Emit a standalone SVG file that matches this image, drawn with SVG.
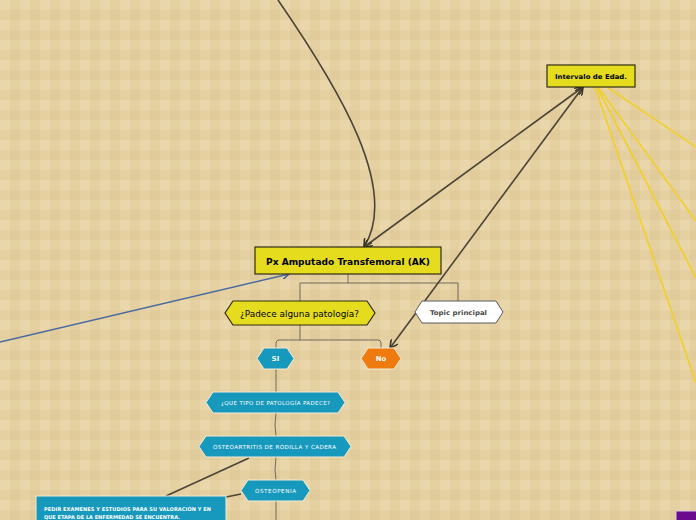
<svg xmlns="http://www.w3.org/2000/svg" width="696" height="520" viewBox="0 0 696 520">
<defs>
<pattern id="plaid" width="20" height="20" patternUnits="userSpaceOnUse">
<rect width="20" height="20" fill="#e9d6aa"/>
<rect x="10" width="10" height="20" fill="#c8a870" fill-opacity="0.12"/>
<rect y="10" width="20" height="10" fill="#c8a870" fill-opacity="0.12"/>
</pattern>
<marker id="arr" viewBox="0 0 10 10" refX="9" refY="5" markerWidth="9" markerHeight="9" orient="auto-start-reverse" markerUnits="userSpaceOnUse">
<path d="M0,0 L9,5 L0,10" fill="none" stroke="#3a3628" stroke-width="1.8"/>
</marker>
<marker id="arrb" viewBox="0 0 10 10" refX="9" refY="5" markerWidth="8" markerHeight="8" orient="auto" markerUnits="userSpaceOnUse">
<path d="M0,0 L9,5 L0,10" fill="none" stroke="#3c5a96" stroke-width="1.8"/>
</marker>
</defs>
<style>
.t{font-family:"DejaVu Sans",Verdana,sans-serif}
.b{font-weight:bold}
.yel{fill:#e6dc1e;stroke:#2f2d14;stroke-width:1.2}
.blue{fill:#1699bd;stroke:#f4ecd4;stroke-width:1}
.wt{fill:#ffffff}
.tree{fill:none;stroke:#6e6a5e;stroke-width:1}
.dark{fill:none;stroke:#4a4536;stroke-width:1.6}
.ylw{fill:none;stroke:#f0d030;stroke-width:1.8}
</style>
<rect width="696" height="520" fill="url(#plaid)"/>
<g id="connectors">
<path class="ylw" d="M607,87 L696,147"/>
<path class="ylw" d="M598,87 L696,221"/>
<path class="ylw" d="M597,87 L696,278"/>
<path class="ylw" d="M595,87 L696,383"/>
<path class="tree" d="M348,274 V283 M300,301 V283 H458 V301"/>
<path class="tree" d="M300,325 V340 M276,348 V343 Q276,340 279,340 H378 Q381,340 381,343 V348"/>
<path class="tree" stroke="#8a7e64" d="M276,369 V392 M276,413 L275,425 L276,436 M276,457 L275,470 L276,480 M276,501 V520"/>
<path class="dark" d="M278,0 C340,90 400,190 364,247" stroke-width="2" marker-end="url(#arr)"/>
<path class="dark" d="M583,87 L364,247" marker-start="url(#arr)" marker-end="url(#arr)"/>
<path class="dark" d="M583,87 L390,348" marker-start="url(#arr)" marker-end="url(#arr)"/>
<path d="M0,342 L289,274" fill="none" stroke="#4a6aa0" stroke-width="1.6" marker-end="url(#arrb)"/>
<path class="dark" stroke-width="1.3" d="M249,458 L166,496 M241,494 L226,497"/>
</g>
<g id="intervalo">
<rect class="yel" x="547" y="65" width="88" height="22"/>
<text class="t b" x="555" y="79" font-size="6.6" textLength="72" lengthAdjust="spacingAndGlyphs">Intervalo de Edad.</text>
</g>
<g id="main">
<rect class="yel" x="255" y="247" width="186" height="27" stroke-width="1.5"/>
<text class="t b" x="266" y="264.5" font-size="9" textLength="164" lengthAdjust="spacingAndGlyphs">Px Amputado Transfemoral (AK)</text>
</g>
<g id="padece">
<polygon class="yel" points="233,301 367,301 375,313 367,325 233,325 225,313"/>
<text class="t" x="240" y="316.5" font-size="8.5" textLength="119" lengthAdjust="spacingAndGlyphs">¿Padece alguna patología?</text>
</g>
<g id="topic">
<polygon points="422,301 496,301 503,312 496,323 422,323 415,312" fill="#ffffff" stroke="#5a5a5a" stroke-width="1"/>
<text class="t b" x="430" y="314.5" font-size="6.6" fill="#4a4a4a" textLength="57" lengthAdjust="spacingAndGlyphs">Topic principal</text>
</g>
<g id="si">
<polygon class="blue" points="264,348 287,348 294,358.5 287,369 264,369 257,358.5"/>
<text class="t b wt" x="275.5" y="361" font-size="6.8" text-anchor="middle">SI</text>
</g>
<g id="no">
<polygon points="368,348 394,348 401,358.5 394,369 368,369 361,358.5" fill="#ef7a10" stroke="#f4ecd4" stroke-width="1"/>
<text class="t b wt" x="381" y="361" font-size="6.8" text-anchor="middle">No</text>
</g>
<g id="tipo">
<polygon class="blue" points="213,392 338,392 345,402.5 338,413 213,413 206,402.5"/>
<text class="t wt" x="221" y="404.5" font-size="5.5" textLength="109" lengthAdjust="spacing">¿QUE TIPO DE PATOLOGÍA PADECE?</text>
</g>
<g id="osteoartritis">
<polygon class="blue" points="206,436 344,436 351,446.5 344,457 206,457 199,446.5"/>
<text class="t wt" x="213" y="448.5" font-size="5.6" textLength="123" lengthAdjust="spacing">OSTEOARTRITIS DE RODILLA Y CADERA</text>
</g>
<g id="osteopenia">
<polygon class="blue" points="248,480 303,480 310,490.5 303,501 248,501 241,490.5"/>
<text class="t wt" x="255" y="492.5" font-size="5.6" textLength="41" lengthAdjust="spacing">OSTEOPENIA</text>
</g>
<g id="pedir">
<rect class="blue" x="36" y="496" width="190" height="30"/>
<text class="t b wt" x="44" y="511" font-size="5" textLength="167" lengthAdjust="spacing">PEDIR EXAMENES Y ESTUDIOS PARA SU VALORACIÓN Y EN</text>
<text class="t b wt" x="44" y="519" font-size="5" textLength="136" lengthAdjust="spacing">QUE ETAPA DE LA ENFERMEDAD SE ENCUENTRA.</text>
</g>
<g id="purple">
<rect x="676" y="511" width="24" height="14" fill="#6a0a8c" stroke="#e0c8e8" stroke-width="1"/>
</g>
</svg>
